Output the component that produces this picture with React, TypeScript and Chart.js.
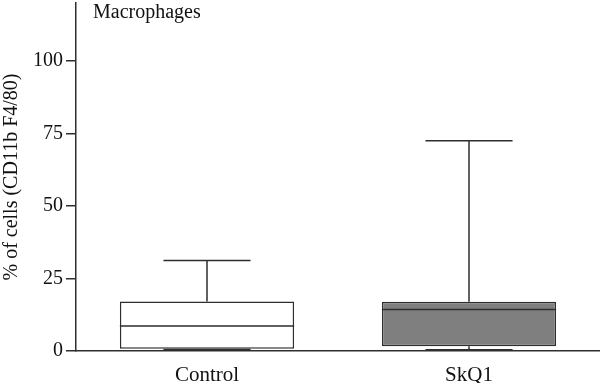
import React, { useEffect, useRef } from 'react';
import { Chart, registerables } from 'chart.js';

Chart.register(...registerables);

const categories = ['Control', 'SkQ1'];
const minValues = [0.5, 0.45];
const q1Values = [0.8, 1.6];
const medianValues = [8.6, 14.3];
const q3Values = [17.1, 17.0];
const maxValues = [31.2, 72.5];
const yTicks = [0, 25, 50, 75, 100];
const boxColors = ['#ffffff', '#7f7f7f'];
const panelTitle = 'Macrophages';
const yAxisTitle = '% of cells (CD11b F4/80)';

const LINE = '#2e2e2e';
const FONT = "'Liberation Serif', 'DejaVu Serif', serif";

const whiskerPlugin = {
  id: 'boxWhiskers',
  afterDatasetsDraw(chart: any) {
    const ctx = chart.ctx;
    const y = chart.scales.y;
    const meta = chart.getDatasetMeta(0);
    ctx.save();
    ctx.strokeStyle = LINE;
    ctx.lineWidth = 1.5;
    meta.data.forEach((bar: any, i: number) => {
      const props = bar.getProps(['x', 'width'], true);
      const cx = props.x;
      const half = props.width / 2;
      const capHalf = props.width / 4;
      const yMin = y.getPixelForValue(minValues[i]);
      const yQ1 = y.getPixelForValue(q1Values[i]);
      const yMed = y.getPixelForValue(medianValues[i]);
      const yQ3 = y.getPixelForValue(q3Values[i]);
      const yMax = y.getPixelForValue(maxValues[i]);
      ctx.beginPath();
      ctx.moveTo(cx, yQ3);
      ctx.lineTo(cx, yMax);
      ctx.moveTo(cx - capHalf, yMax);
      ctx.lineTo(cx + capHalf, yMax);
      ctx.moveTo(cx, yQ1);
      ctx.lineTo(cx, yMin);
      ctx.moveTo(cx - capHalf, yMin);
      ctx.lineTo(cx + capHalf, yMin);
      ctx.moveTo(cx - half, yMed);
      ctx.lineTo(cx + half, yMed);
      ctx.stroke();
    });
    ctx.fillStyle = '#111';
    ctx.font = `20px ${FONT}`;
    ctx.textAlign = 'left';
    ctx.textBaseline = 'alphabetic';
    ctx.fillText(panelTitle, chart.chartArea.left + 17, 18);
    ctx.restore();
  },
};

export default function App() {
  const ref = useRef<HTMLCanvasElement | null>(null);
  useEffect(() => {
    if (!ref.current) return;
    const chart = new Chart(ref.current, {
      type: 'bar',
      data: {
        labels: categories,
        datasets: [
          {
            data: categories.map((_, i) => [q1Values[i], q3Values[i]]) as any,
            backgroundColor: boxColors,
            borderColor: LINE,
            borderWidth: 1.5,
            borderSkipped: false,
            barPercentage: 0.665,
            categoryPercentage: 1,
          },
        ],
      },
      options: {
        animation: false,
        responsive: false,
        maintainAspectRatio: false,
        layout: { padding: { top: 3, left: 0, right: 0, bottom: 0 } },
        plugins: { legend: { display: false }, tooltip: { enabled: false }, title: { display: false } },
        scales: {
          x: {
            type: 'category',
            offset: true,
            grid: { display: false },
            border: { display: true, color: LINE, width: 1.5 },
            ticks: { color: '#111', font: { family: FONT, size: 21 }, padding: 4 },
            afterFit(scale: any) {
              scale.height = 32;
              scale.paddingLeft = 0;
              scale.paddingRight = 0;
            },
          },
          y: {
            min: 0,
            max: 120,
            afterBuildTicks(scale: any) {
              scale.ticks = yTicks.map((v) => ({ value: v }));
            },
            grid: {
              display: true,
              drawOnChartArea: false,
              drawTicks: true,
              tickLength: 10,
              color: LINE,
              lineWidth: 1.5,
            },
            border: { display: true, color: LINE, width: 1.5 },
            ticks: { color: '#111', font: { family: FONT, size: 20 }, padding: 3 },
            title: {
              display: true,
              text: yAxisTitle,
              color: '#111',
              font: { family: FONT, size: 20 },
              padding: 0,
            },
            afterFit(scale: any) {
              scale.width = 76;
              scale.paddingTop = 0;
              scale.paddingBottom = 0;
            },
          },
        },
      },
      plugins: [whiskerPlugin],
    });
    return () => chart.destroy();
  }, []);
  return (
    <div style={{ position: 'absolute', left: 0, top: 0, width: 600, height: 383, background: '#fff' }}>
      <canvas ref={ref} width={600} height={383} />
    </div>
  );
}
